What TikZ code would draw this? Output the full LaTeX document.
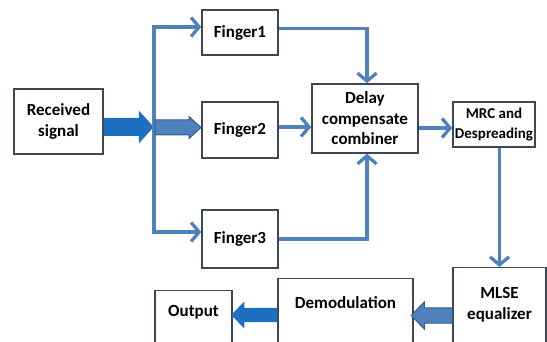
\documentclass[tikz,border=0pt]{standalone}
\usepackage{fontspec}
\setsansfont{Carlito}
\usetikzlibrary{arrows.meta,calc,positioning}
\definecolor{wireblue}{RGB}{79,129,189}
\definecolor{darkblue}{RGB}{31,111,192}
\definecolor{edgeblue}{RGB}{56,93,138}
\definecolor{boxline}{RGB}{62,70,84}
\tikzset{
  barb/.tip={Straight Barb[length=8pt,width=19pt]},
  box/.style={draw=boxline,line width=1.5pt,fill=white,align=center,inner sep=2pt,
    font=\sffamily\bfseries\fontsize{17}{21.5}\selectfont},
  wire/.style={draw=wireblue,line width=3.3pt,-barb},
  blockarrow/.style={fill=wireblue,draw=edgeblue,line width=1pt},
  fatarrow/.style={fill=darkblue},
}
\begin{document}
\begin{tikzpicture}[x=1pt,y=-1pt]
  \useasboundingbox (0,0) rectangle (547,342);
  % boxes
  \node[box,minimum width=89,minimum height=65] (recv) at (58.5,121.5) {Received\\signal};
  \node[box,minimum width=76,minimum height=45] (f1) at (240,32.5) {Finger1};
  \node[box,minimum width=76,minimum height=56] (f2) at (240,130) {Finger2};
  \node[box,minimum width=76,minimum height=58] (f3) at (240,239) {Finger3};
  \node[box,minimum width=106,minimum height=69,font=\sffamily\bfseries\fontsize{17}{20.5}\selectfont] (delay) at (365,118.5) {Delay\\compensate\\combiner};
  \node[box,minimum width=82,minimum height=45,font=\sffamily\bfseries\fontsize{15}{20}\selectfont] (mrc) at (494,124.5) {MRC and\\Despreading};
  % bottom row, cut by the lower edge
  \node[box,minimum width=93,anchor=north,text height=50pt,text depth=40pt] (mlse) at (499.5,267) {MLSE\\equalizer};
  \node[box,minimum width=135,anchor=north,text height=27.5pt,text depth=60pt] (demod) at (345.5,278) {Demodulation};
  \node[box,minimum width=77,anchor=north,text height=23.5pt,text depth=60pt] (out) at (193.5,290) {Output};

  % received signal into the bus
  \coordinate (ra) at ([yshift=-5.5pt]recv.east);
  \fill[fatarrow] (ra) ++(0,-9) -- ++(35,0) -- ++(0,-7.5) -- ++(15,16.5)
    -- ++(-15,16.5) -- ++(0,-7.5) -- ++(-35,0) -- cycle;
  \coordinate (bt) at (154,27);
  \coordinate (bb) at (154,232);
  \coordinate (bm) at (155,127.5);
  \draw[wire,barb-barb] (bt -| f1.west) -- (bt) -- (bb) -- (bb -| f3.west);
  \filldraw[blockarrow] (bm) ++(0,-7.5) -- ++(34,0) -- ++(0,-3.5) -- ++(12,11)
    -- ++(-12,11) -- ++(0,-3.5) -- ++(-34,0) -- cycle;

  % fingers into the combiner
  \draw[wire] ([yshift=4pt]f1.east) -| ([xshift=2pt]delay.north);
  \coordinate (r2) at ([yshift=3pt]f2.east);
  \draw[wire] (r2) -- (r2 -| delay.west);
  \draw[wire] (f3.east) -| ([xshift=2pt]delay.south);
  \coordinate (r4) at ([yshift=-9.5pt]delay.east);
  \draw[wire] (r4) -- (r4 -| mrc.west);
  \draw[wire] (mlse.north |- mrc.south) -- (mlse.north);

  % back along the bottom
  \filldraw[blockarrow] (mlse.north west) ++(0,41) -- ++(-28,0) -- ++(0,-6)
    -- ++(-13,13.5) -- ++(13,13.5) -- ++(0,-6) -- ++(28,0) -- cycle;
  \fill[fatarrow] (demod.north west) ++(0,30) -- ++(-33,0) -- ++(0,-6.5)
    -- ++(-13,13.5) -- ++(13,13.5) -- ++(0,-6.5) -- ++(33,0) -- cycle;
\end{tikzpicture}
\end{document}
